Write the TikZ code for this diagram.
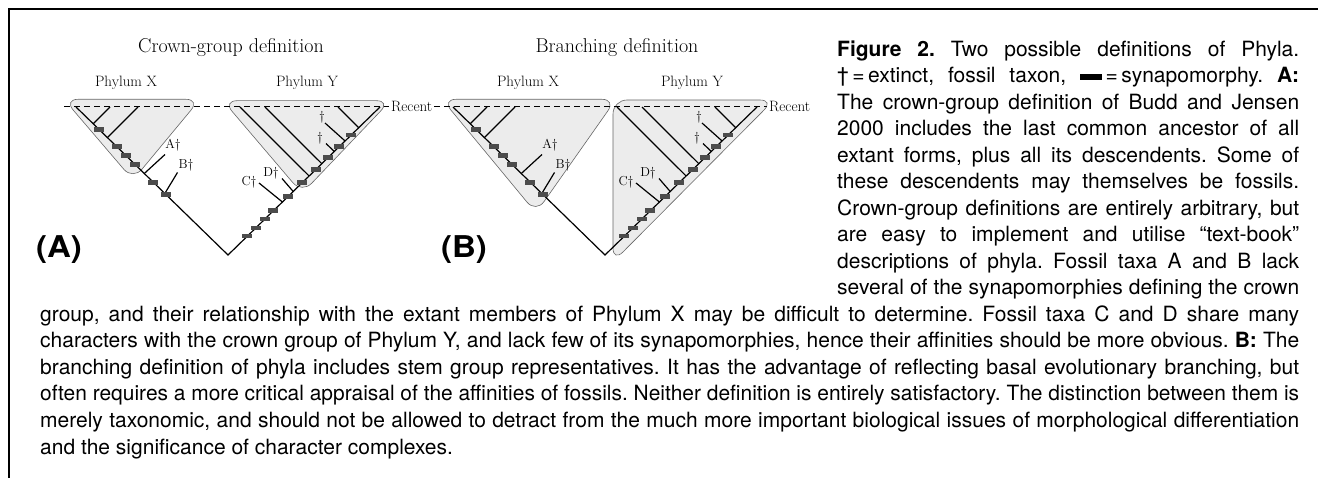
\documentclass[tikz,border=0pt]{standalone}
\usepackage{fontspec}
\usepackage{graphicx}
\usepackage{tikz}
\usetikzlibrary{calc}
\newfontfamily\capfont{TeX Gyre Heros}
\frenchspacing
\definecolor{hullgray}{gray}{0.925}
\definecolor{hullline}{gray}{0.4}
\definecolor{bargray}{gray}{0.3}
\newlength{\capwd}
\newcommand{\capline}[2]{%
\settowidth{\capwd}{#2}%
\ifdim\capwd>#1\relax
\pgfmathsetmacro{\capratio}{#1/\capwd}%
\scalebox{\capratio}[1]{#2}%
\else
\makebox[#1][s]{#2}%
\fi}
\newcommand{\phylotree}[1]{%
\coordinate (#1root) at (228,255);
\coordinate (#1ltip) at (76,107);
\coordinate (#1rtip) at (380,107);
\coordinate (#1jx1) at (93.2,123.8); \coordinate (#1tx1) at (110,107);
\coordinate (#1jx2) at (107.4,137.6); \coordinate (#1tx2) at (138,107);
\coordinate (#1jfa) at (144.3,173.5); \coordinate (#1tfa) at (165,154.5);
\coordinate (#1jfb) at (164.8,193.5); \coordinate (#1tfb) at (177.5,172.5);
\coordinate (#1jy1) at (309.1,176); \coordinate (#1ty1) at (240,107);
\coordinate (#1jy2) at (321.8,163.7); \coordinate (#1ty2) at (265,107);
\coordinate (#1jd1) at (345.1,141); \coordinate (#1td1) at (325,123);
\coordinate (#1jd2) at (334.3,151.5); \coordinate (#1td2) at (326,143.5);
\coordinate (#1jy3) at (358.7,127.7); \coordinate (#1ty3) at (338,107);
\coordinate (#1jfc) at (282.4,202); \coordinate (#1tfc) at (259,183);
\coordinate (#1jfd) at (293.2,191.5); \coordinate (#1tfd) at (282,178.5);
\draw[branch] (#1ltip) -- (#1root) -- (#1rtip);
\foreach \b in {x1,x2,fa,fb,y1,y2,d1,d2,y3,fc,fd}
  \draw[branch] (#1j\b) -- (#1t\b);
\foreach \fr [count=\i] in {0.849,0.732,0.671,0.611,0.491,0.410}
  \node[synbar] (#1lbar\i) at ($(#1root)!\fr!(#1ltip)$) {};
\foreach \fr [count=\i] in {0.128,0.184,0.243,0.299,0.394,0.489,0.579,0.660,0.732,0.811}
  \node[synbar] (#1rbar\i) at ($(#1root)!\fr!(#1rtip)$) {};
\node[taxon] (#1labA) at (173,145) {A\textdagger};
\node[taxon] (#1labB) at (186,165) {B\textdagger};
\node[taxon] (#1labC) at (249,182) {C\textdagger};
\node[taxon] (#1labD) at (271,173) {D\textdagger};
\node[taxon] (#1labE) at (322,117) {\textdagger};
\node[taxon] (#1labF) at (320,138) {\textdagger};
}

\begin{document}
\begin{tikzpicture}[x=1pt,y=-1pt]
\tikzstyle{branch}=[line width=1.2pt,black]
\tikzstyle{hull}=[fill=hullgray,draw=hullline,line width=0.6pt,rounded corners=14pt]
\tikzstyle{synbar}=[rectangle,fill=bargray,minimum width=10pt,minimum height=4.5pt,inner sep=0pt]
\tikzstyle{taxon}=[inner sep=0pt,font=\fontsize{13}{15}\selectfont]
\tikzstyle{title}=[anchor=base,inner sep=0pt,font=\fontsize{20}{24}\selectfont]
\tikzstyle{phylum}=[anchor=base,inner sep=0pt,font=\fontsize{15}{17}\selectfont]
\tikzstyle{recent}=[anchor=west,inner sep=2pt,font=\fontsize{15}{17}\selectfont]
\tikzstyle{recentline}=[line width=1pt,dash pattern=on 6pt off 4pt]
\tikzstyle{panel}=[inner sep=0pt,font=\capfont\bfseries\fontsize{30}{30}\selectfont]
\tikzstyle{capnode}=[anchor=base west,inner sep=0pt,font=\capfont\fontsize{21}{26}\selectfont\frenchspacing]
\useasboundingbox (0,0) rectangle (1318,478);
\draw[line width=2.7pt] (9,478) -- (9,9) -- (1318,9);

% crown groups and branching groups
\draw[hull] (132,99.3) -- (200,99.3) -- (133,180) -- (64,99.3) -- cycle;
\draw[hull] (300,100.7) -- (390.5,100.7) -- (302,193.4) -- (223,100.7) -- cycle;
\draw[hull] (530,99.3) -- (616,99.3) -- (536,213) -- (442,99.3) -- cycle;
\draw[hull] (690,100) -- (774,100) -- (613,262) -- (613,100) -- cycle;

\node[recent] (recA) at (389,107) {Recent};
\node[recent] (recB) at (767,107) {Recent};
\coordinate (dstart) at (64,107);
\draw[recentline] (dstart) -- (recA);
\draw[recentline] (recA) -- (recB);

\phylotree{a}
\begin{scope}[xshift=377pt]
\phylotree{b}
\end{scope}

\node[title] (ttlA) at (231,52.5) {Crown-group definition};
\node[title] (ttlB) at (617,52.5) {Branching definition};
\node[phylum] (phxA) at (126,87) {Phylum X};
\node[phylum] (phyA) at (307,87) {Phylum Y};
\node[phylum] (phxB) at (528,87) {Phylum X};
\node[phylum] (phyB) at (692,87) {Phylum Y};
\node[panel] (panA) at (59,249.5) {\scalebox{1.1}[1]{(A)}};
\node[panel] (panB) at (464,250) {\scalebox{1.1}[1]{(B)}};

% caption
\node[capnode] (cap1) at (837,56.5) {\capline{462pt}{{\bfseries Figure 2.} Two possible definitions of Phyla.}};
\node[capnode] (cap2) at (837,83) {\capline{462pt}{\textdagger\,=\,extinct, fossil taxon, \rule[3pt]{22pt}{6pt}\,=\,synapomorphy. {\bfseries A:}}};
\node[capnode] (cap3) at (837,109.5) {\capline{462pt}{The crown-group definition of Budd and Jensen}};
\node[capnode] (cap4) at (837,136) {\capline{462pt}{2000 includes the last common ancestor of all}};
\node[capnode] (cap5) at (837,162.5) {\capline{462pt}{extant forms, plus all its descendents. Some of}};
\node[capnode] (cap6) at (837,189) {\capline{462pt}{these descendents may themselves be fossils.}};
\node[capnode] (cap7) at (837,215.5) {\capline{462pt}{Crown-group definitions are entirely arbitrary, but}};
\node[capnode] (cap8) at (837,242) {\capline{462pt}{are easy to implement and utilise “text-book”}};
\node[capnode] (cap9) at (837,268.5) {\capline{462pt}{descriptions of phyla. Fossil taxa A and B lack}};
\node[capnode] (cap10) at (837,295) {\capline{462pt}{several of the synapomorphies defining the crown}};
\node[capnode] (cap11) at (40,321.5) {\capline{1259pt}{group, and their relationship with the extant members of Phylum X may be difficult to determine. Fossil taxa C and D share many}};
\node[capnode] (cap12) at (40,348) {\capline{1259pt}{characters with the crown group of Phylum Y, and lack few of its synapomorphies, hence their affinities should be more obvious. {\bfseries B:} The}};
\node[capnode] (cap13) at (40,374.5) {\capline{1259pt}{branching definition of phyla includes stem group representatives. It has the advantage of reflecting basal evolutionary branching, but}};
\node[capnode] (cap14) at (40,401) {\capline{1259pt}{often requires a more critical appraisal of the affinities of fossils. Neither definition is entirely satisfactory. The distinction between them is}};
\node[capnode] (cap15) at (40,427.5) {\capline{1259pt}{merely taxonomic, and should not be allowed to detract from the much more important biological issues of morphological differentiation}};
\node[capnode] (cap16) at (40,454) {and the significance of character complexes.};
\end{tikzpicture}
\end{document}
